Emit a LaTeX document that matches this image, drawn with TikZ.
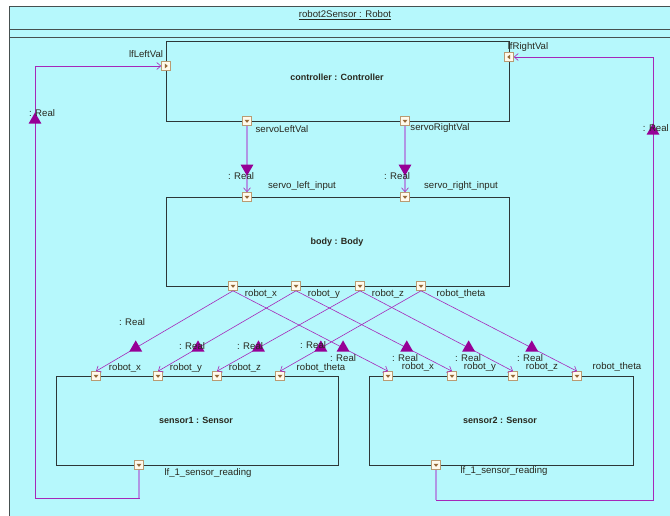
\documentclass[tikz,border=0pt]{standalone}
\usepackage{fontspec}
\setmainfont{Liberation Sans}
\usetikzlibrary{arrows.meta,shapes.geometric,calc}
\definecolor{bgc}{RGB}{182,248,252}
\definecolor{framec}{RGB}{70,80,80}
\definecolor{partc}{RGB}{45,55,55}
\definecolor{flowc}{RGB}{165,40,185}
\definecolor{lavc}{RGB}{176,150,228}
\definecolor{tric}{RGB}{150,0,150}
\definecolor{portb}{RGB}{185,155,115}
\definecolor{portf}{RGB}{255,250,236}
\definecolor{portg}{RGB}{150,105,55}
\definecolor{txtc}{RGB}{40,40,30}
\tikzset{
  part/.style={rectangle, draw=partc, line width=0.9pt, inner sep=0pt, anchor=north west},
  portbox/.style={rectangle, draw=portb, fill=portf, minimum size=9pt, inner sep=0pt, line width=0.6pt},
  portdown/.style={portbox, path picture={\fill[portg] ($(path picture bounding box.center)+(-2.5,-1.2)$) -- ++(5,0) -- ++(-2.5,3) -- cycle;}},
  portright/.style={portbox, path picture={\fill[portg] ($(path picture bounding box.center)+(-1.2,-2.5)$) -- ++(0,5) -- ++(3,-2.5) -- cycle;}},
  portleft/.style={portbox, path picture={\fill[portg] ($(path picture bounding box.center)+(1.2,-2.5)$) -- ++(0,5) -- ++(-3,-2.5) -- cycle;}},
  flow/.style={draw=flowc, line width=0.6pt, -{Straight Barb[length=4pt,width=7pt,line width=0.6pt]}},
  servo/.style={draw=lavc, line width=1.4pt, -{Straight Barb[length=4pt,width=7pt,line width=0.6pt,color=flowc]}},
  lavseg/.style={draw=lavc, line width=1.2pt},
  triup/.style={regular polygon, regular polygon sides=3, fill=tric, minimum size=15pt, inner sep=0pt},
  tridown/.style={triup, shape border rotate=180},
  lbl/.style={inner sep=0pt, text=txtc},
  title/.style={inner sep=0pt, text=txtc, font=\fontsize{9}{10}\selectfont\bfseries}
}
\begin{document}
\begin{tikzpicture}[x=1pt,y=-1pt,font=\fontsize{9.6}{11}\selectfont]
\useasboundingbox (0,0) rectangle (670,516);
\fill[white] (0,0) rectangle (670,516);
% outer frame
\draw[framec, fill=bgc, line width=0.8pt] (9,6) rectangle (700,540);
\draw[framec, line width=0.8pt] (9,29) -- (700,29);
\draw[framec, line width=0.8pt] (9,37) -- (700,37);
\node[lbl] (ttl) at (345,15) {\underline{robot2Sensor : Robot}};

% parts
\node[part, minimum width=343pt, minimum height=80pt] (ctrl) at (166,41) {};
\node[part, minimum width=343pt, minimum height=89pt] (body) at (166,197) {};
\node[part, minimum width=282pt, minimum height=89pt] (sen1) at (56,376) {};
\node[part, minimum width=264pt, minimum height=89pt] (sen2) at (369,376) {};
\node[title] (ctrlt) at (337,77) {controller : Controller};
\node[title] (bodyt) at (337,242) {body : Body};
\node[title] (sen1t) at (196,420) {sensor1 : Sensor};
\node[title] (sen2t) at (500,420) {sensor2 : Sensor};

% ports
\node[portright] (inL) at (166,66) {};
\node[portleft] (inR) at (509,57) {};
\node[portdown] (sL) at (247,121) {};
\node[portdown] (sR) at (405,121) {};
\node[portdown] (bL) at (247,197) {};
\node[portdown] (bR) at (405,197) {};
\node[portdown] (bx) at (233,286) {};
\node[portdown] (by) at (296,286) {};
\node[portdown] (bz) at (360,286) {};
\node[portdown] (bt) at (421,286) {};
\node[portdown] (s1x) at (96,376) {};
\node[portdown] (s1y) at (158,376) {};
\node[portdown] (s1z) at (217,376) {};
\node[portdown] (s1t) at (280,376) {};
\node[portdown] (s2x) at (388,376) {};
\node[portdown] (s2y) at (452,376) {};
\node[portdown] (s2z) at (513,376) {};
\node[portdown] (s2t) at (577,376) {};
\node[portdown] (s1o) at (139,465) {};
\node[portdown] (s2o) at (436,465) {};

% port labels
\node[lbl] (linL) at (146,54) {lfLeftVal};
\node[lbl] (linR) at (528,47) {lfRightVal};
\node[lbl] (lsL) at (282,129) {servoLeftVal};
\node[lbl] (lsR) at (440,128) {servoRightVal};
\node[lbl] (lbL) at (302,186) {servo\_left\_input};
\node[lbl] (lbR) at (461,186) {servo\_right\_input};
\node[lbl] (lbx) at (261,294) {robot\_x};
\node[lbl] (lby) at (324,294) {robot\_y};
\node[lbl] (lbz) at (388,294) {robot\_z};
\node[lbl] (lbt) at (461,294) {robot\_theta};
\node[lbl] (l1x) at (125,368) {robot\_x};
\node[lbl] (l1y) at (186,368) {robot\_y};
\node[lbl] (l1z) at (245,368) {robot\_z};
\node[lbl] (l1t) at (321,368) {robot\_theta};
\node[lbl] (l2x) at (418,367) {robot\_x};
\node[lbl] (l2y) at (480,367) {robot\_y};
\node[lbl] (l2z) at (542,367) {robot\_z};
\node[lbl] (l2t) at (617,367) {robot\_theta};
\node[lbl] (l1o) at (208,473) {lf\_1\_sensor\_reading};
\node[lbl] (l2o) at (504,471) {lf\_1\_sensor\_reading};

% servo connectors
\draw[servo] (sL.south) -- node[tridown, pos=0.64] (tsL) {} (bL.north);
\draw[servo] (sR.south) -- node[tridown, pos=0.64] (tsR) {} (bR.north);
\node[lbl] (rsL) at (241,176) {: Real};
\node[lbl] (rsR) at (397,176) {: Real};

% body -> sensor1
\draw[flow] (bx.south) -- node[triup, pos=0.71] (t1x) {} (s1x.north);
\draw[flow] (by.south) -- node[triup, pos=0.71] (t1y) {} (s1y.north);
\draw[flow] (bz.south) -- node[triup, pos=0.71] (t1z) {} (s1z.north);
\draw[flow] (bt.south) -- node[triup, pos=0.71] (t1t) {} (s1t.north);
% body -> sensor2
\draw[flow] (bx.south) -- node[triup, pos=0.71] (t2x) {} (s2x.north);
\draw[flow] (by.south) -- node[triup, pos=0.71] (t2y) {} (s2y.north);
\draw[flow] (bz.south) -- node[triup, pos=0.71] (t2z) {} (s2z.north);
\draw[flow] (bt.south) -- node[triup, pos=0.71] (t2t) {} (s2t.north);
\node[lbl] (r1x) at (132,322) {: Real};
\node[lbl] (r1y) at (192,346) {: Real};
\node[lbl] (r1z) at (250,346) {: Real};
\node[lbl] (r1t) at (313,345) {: Real};
\node[lbl] (r2x) at (343,358) {: Real};
\node[lbl] (r2y) at (405,358) {: Real};
\node[lbl] (r2z) at (468,358) {: Real};
\node[lbl] (r2t) at (530,358) {: Real};

% feedback loops
\coordinate (lc) at (35,498);
\coordinate (rc) at (653,500);
\draw[flow] (s1o.south) -- (s1o.south |- lc) -- (lc) -- (lc |- inL) -- (inL.west);
\draw[lavseg] (s1o.south) -- (s1o.south |- lc);
\draw[flow] (s2o.south) -- (s2o.south |- rc) -- (rc) -- (rc |- inR) -- (inR.east);
\draw[lavseg] (s2o.south) -- (s2o.south |- rc);
\node[triup] (tl) at (35,120) {};
\node[triup] (tr) at (653,131) {};
\node[lbl] (rl) at (42,113) {: Real};
\node[lbl, anchor=east] (rr) at (669,128) {: Real};
\end{tikzpicture}
\end{document}
